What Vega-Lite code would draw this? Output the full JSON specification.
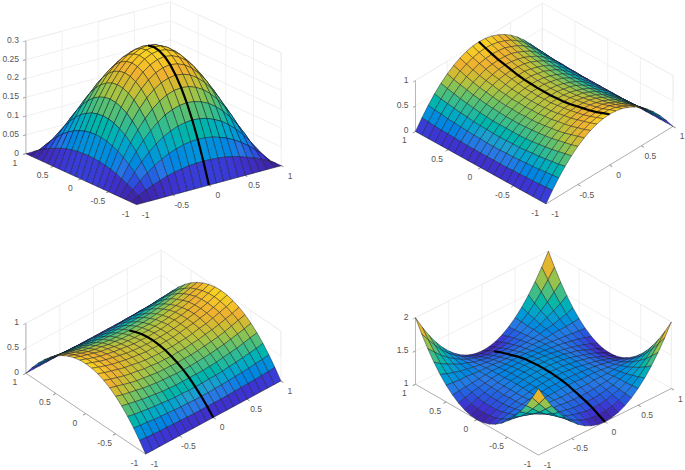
{"$schema":"https://vega.github.io/schema/vega-lite/v6.json","width":685,"height":470,"autosize":{"type":"fit","contains":"padding"},"padding":0,"background":"white","config":{"view":{"stroke":null}},
"datasets":{"grid":[
{"p":1,"x":1,"y":[1,0.9,0.8,0.7,0.6,0.5,0.4,0.3,0.2,0.1,0,-0.1,-0.2,-0.3,-0.4,-0.5,-0.6,-0.7,-0.8,-0.9,-1],"z":[0,0,0,0,0,0,0,0,0,0,0,0,0,0,0,0,0,0,0,0,0]},
{"p":1,"x":0.9,"y":[1,0.9,0.8,0.7,0.6,0.5,0.4,0.3,0.2,0.1,0,-0.1,-0.2,-0.3,-0.4,-0.5,-0.6,-0.7,-0.8,-0.9,-1],"z":[0,0.011,0.021,0.029,0.036,0.043,0.048,0.052,0.055,0.056,0.057,0.056,0.055,0.052,0.048,0.043,0.036,0.029,0.021,0.011,0]},
{"p":1,"x":0.8,"y":[1,0.9,0.8,0.7,0.6,0.5,0.4,0.3,0.2,0.1,0,-0.1,-0.2,-0.3,-0.4,-0.5,-0.6,-0.7,-0.8,-0.9,-1],"z":[0,0.021,0.039,0.055,0.069,0.081,0.091,0.098,0.104,0.107,0.108,0.107,0.104,0.098,0.091,0.081,0.069,0.055,0.039,0.021,0]},
{"p":1,"x":0.7,"y":[1,0.9,0.8,0.7,0.6,0.5,0.4,0.3,0.2,0.1,0,-0.1,-0.2,-0.3,-0.4,-0.5,-0.6,-0.7,-0.8,-0.9,-1],"z":[0,0.029,0.055,0.078,0.098,0.115,0.129,0.139,0.147,0.151,0.153,0.151,0.147,0.139,0.129,0.115,0.098,0.078,0.055,0.029,0]},
{"p":1,"x":0.6,"y":[1,0.9,0.8,0.7,0.6,0.5,0.4,0.3,0.2,0.1,0,-0.1,-0.2,-0.3,-0.4,-0.5,-0.6,-0.7,-0.8,-0.9,-1],"z":[0,0.036,0.069,0.098,0.123,0.144,0.161,0.175,0.184,0.19,0.192,0.19,0.184,0.175,0.161,0.144,0.123,0.098,0.069,0.036,0]},
{"p":1,"x":0.5,"y":[1,0.9,0.8,0.7,0.6,0.5,0.4,0.3,0.2,0.1,0,-0.1,-0.2,-0.3,-0.4,-0.5,-0.6,-0.7,-0.8,-0.9,-1],"z":[0,0.043,0.081,0.115,0.144,0.169,0.189,0.205,0.216,0.223,0.225,0.223,0.216,0.205,0.189,0.169,0.144,0.115,0.081,0.043,0]},
{"p":1,"x":0.4,"y":[1,0.9,0.8,0.7,0.6,0.5,0.4,0.3,0.2,0.1,0,-0.1,-0.2,-0.3,-0.4,-0.5,-0.6,-0.7,-0.8,-0.9,-1],"z":[0,0.048,0.091,0.129,0.161,0.189,0.212,0.229,0.242,0.249,0.252,0.249,0.242,0.229,0.212,0.189,0.161,0.129,0.091,0.048,0]},
{"p":1,"x":0.3,"y":[1,0.9,0.8,0.7,0.6,0.5,0.4,0.3,0.2,0.1,0,-0.1,-0.2,-0.3,-0.4,-0.5,-0.6,-0.7,-0.8,-0.9,-1],"z":[0,0.052,0.098,0.139,0.175,0.205,0.229,0.248,0.262,0.27,0.273,0.27,0.262,0.248,0.229,0.205,0.175,0.139,0.098,0.052,0]},
{"p":1,"x":0.2,"y":[1,0.9,0.8,0.7,0.6,0.5,0.4,0.3,0.2,0.1,0,-0.1,-0.2,-0.3,-0.4,-0.5,-0.6,-0.7,-0.8,-0.9,-1],"z":[0,0.055,0.104,0.147,0.184,0.216,0.242,0.262,0.276,0.285,0.288,0.285,0.276,0.262,0.242,0.216,0.184,0.147,0.104,0.055,0]},
{"p":1,"x":0.1,"y":[1,0.9,0.8,0.7,0.6,0.5,0.4,0.3,0.2,0.1,0,-0.1,-0.2,-0.3,-0.4,-0.5,-0.6,-0.7,-0.8,-0.9,-1],"z":[0,0.056,0.107,0.151,0.19,0.223,0.249,0.27,0.285,0.294,0.297,0.294,0.285,0.27,0.249,0.223,0.19,0.151,0.107,0.056,0]},
{"p":1,"x":0,"y":[1,0.9,0.8,0.7,0.6,0.5,0.4,0.3,0.2,0.1,0,-0.1,-0.2,-0.3,-0.4,-0.5,-0.6,-0.7,-0.8,-0.9,-1],"z":[0,0.057,0.108,0.153,0.192,0.225,0.252,0.273,0.288,0.297,0.3,0.297,0.288,0.273,0.252,0.225,0.192,0.153,0.108,0.057,0]},
{"p":1,"x":-0.1,"y":[1,0.9,0.8,0.7,0.6,0.5,0.4,0.3,0.2,0.1,0,-0.1,-0.2,-0.3,-0.4,-0.5,-0.6,-0.7,-0.8,-0.9,-1],"z":[0,0.056,0.107,0.151,0.19,0.223,0.249,0.27,0.285,0.294,0.297,0.294,0.285,0.27,0.249,0.223,0.19,0.151,0.107,0.056,0]},
{"p":1,"x":-0.2,"y":[1,0.9,0.8,0.7,0.6,0.5,0.4,0.3,0.2,0.1,0,-0.1,-0.2,-0.3,-0.4,-0.5,-0.6,-0.7,-0.8,-0.9,-1],"z":[0,0.055,0.104,0.147,0.184,0.216,0.242,0.262,0.276,0.285,0.288,0.285,0.276,0.262,0.242,0.216,0.184,0.147,0.104,0.055,0]},
{"p":1,"x":-0.3,"y":[1,0.9,0.8,0.7,0.6,0.5,0.4,0.3,0.2,0.1,0,-0.1,-0.2,-0.3,-0.4,-0.5,-0.6,-0.7,-0.8,-0.9,-1],"z":[0,0.052,0.098,0.139,0.175,0.205,0.229,0.248,0.262,0.27,0.273,0.27,0.262,0.248,0.229,0.205,0.175,0.139,0.098,0.052,0]},
{"p":1,"x":-0.4,"y":[1,0.9,0.8,0.7,0.6,0.5,0.4,0.3,0.2,0.1,0,-0.1,-0.2,-0.3,-0.4,-0.5,-0.6,-0.7,-0.8,-0.9,-1],"z":[0,0.048,0.091,0.129,0.161,0.189,0.212,0.229,0.242,0.249,0.252,0.249,0.242,0.229,0.212,0.189,0.161,0.129,0.091,0.048,0]},
{"p":1,"x":-0.5,"y":[1,0.9,0.8,0.7,0.6,0.5,0.4,0.3,0.2,0.1,0,-0.1,-0.2,-0.3,-0.4,-0.5,-0.6,-0.7,-0.8,-0.9,-1],"z":[0,0.043,0.081,0.115,0.144,0.169,0.189,0.205,0.216,0.223,0.225,0.223,0.216,0.205,0.189,0.169,0.144,0.115,0.081,0.043,0]},
{"p":1,"x":-0.6,"y":[1,0.9,0.8,0.7,0.6,0.5,0.4,0.3,0.2,0.1,0,-0.1,-0.2,-0.3,-0.4,-0.5,-0.6,-0.7,-0.8,-0.9,-1],"z":[0,0.036,0.069,0.098,0.123,0.144,0.161,0.175,0.184,0.19,0.192,0.19,0.184,0.175,0.161,0.144,0.123,0.098,0.069,0.036,0]},
{"p":1,"x":-0.7,"y":[1,0.9,0.8,0.7,0.6,0.5,0.4,0.3,0.2,0.1,0,-0.1,-0.2,-0.3,-0.4,-0.5,-0.6,-0.7,-0.8,-0.9,-1],"z":[0,0.029,0.055,0.078,0.098,0.115,0.129,0.139,0.147,0.151,0.153,0.151,0.147,0.139,0.129,0.115,0.098,0.078,0.055,0.029,0]},
{"p":1,"x":-0.8,"y":[1,0.9,0.8,0.7,0.6,0.5,0.4,0.3,0.2,0.1,0,-0.1,-0.2,-0.3,-0.4,-0.5,-0.6,-0.7,-0.8,-0.9,-1],"z":[0,0.021,0.039,0.055,0.069,0.081,0.091,0.098,0.104,0.107,0.108,0.107,0.104,0.098,0.091,0.081,0.069,0.055,0.039,0.021,0]},
{"p":1,"x":-0.9,"y":[1,0.9,0.8,0.7,0.6,0.5,0.4,0.3,0.2,0.1,0,-0.1,-0.2,-0.3,-0.4,-0.5,-0.6,-0.7,-0.8,-0.9,-1],"z":[0,0.011,0.021,0.029,0.036,0.043,0.048,0.052,0.055,0.056,0.057,0.056,0.055,0.052,0.048,0.043,0.036,0.029,0.021,0.011,0]},
{"p":1,"x":-1,"y":[1,0.9,0.8,0.7,0.6,0.5,0.4,0.3,0.2,0.1,0,-0.1,-0.2,-0.3,-0.4,-0.5,-0.6,-0.7,-0.8,-0.9,-1],"z":[0,0,0,0,0,0,0,0,0,0,0,0,0,0,0,0,0,0,0,0,0]},
{"p":2,"x":1,"y":[1,0.9,0.8,0.7,0.6,0.5,0.4,0.3,0.2,0.1,0,-0.1,-0.2,-0.3,-0.4,-0.5,-0.6,-0.7,-0.8,-0.9,-1],"z":[0,0,0,0,0,0,0,0,0,0,0,0,0,0,0,0,0,0,0,0,0]},
{"p":2,"x":0.9,"y":[1,0.9,0.8,0.7,0.6,0.5,0.4,0.3,0.2,0.1,0,-0.1,-0.2,-0.3,-0.4,-0.5,-0.6,-0.7,-0.8,-0.9,-1],"z":[0.19,0.18,0.17,0.16,0.16,0.15,0.15,0.14,0.14,0.14,0.14,0.14,0.14,0.14,0.15,0.15,0.16,0.16,0.17,0.18,0.19]},
{"p":2,"x":0.8,"y":[1,0.9,0.8,0.7,0.6,0.5,0.4,0.3,0.2,0.1,0,-0.1,-0.2,-0.3,-0.4,-0.5,-0.6,-0.7,-0.8,-0.9,-1],"z":[0.36,0.34,0.33,0.31,0.3,0.29,0.28,0.27,0.27,0.26,0.26,0.26,0.27,0.27,0.28,0.29,0.3,0.31,0.33,0.34,0.36]},
{"p":2,"x":0.7,"y":[1,0.9,0.8,0.7,0.6,0.5,0.4,0.3,0.2,0.1,0,-0.1,-0.2,-0.3,-0.4,-0.5,-0.6,-0.7,-0.8,-0.9,-1],"z":[0.51,0.48,0.46,0.44,0.42,0.41,0.39,0.38,0.38,0.37,0.37,0.37,0.38,0.38,0.39,0.41,0.42,0.44,0.46,0.48,0.51]},
{"p":2,"x":0.6,"y":[1,0.9,0.8,0.7,0.6,0.5,0.4,0.3,0.2,0.1,0,-0.1,-0.2,-0.3,-0.4,-0.5,-0.6,-0.7,-0.8,-0.9,-1],"z":[0.64,0.61,0.58,0.55,0.53,0.51,0.49,0.48,0.47,0.47,0.47,0.47,0.47,0.48,0.49,0.51,0.53,0.55,0.58,0.61,0.64]},
{"p":2,"x":0.5,"y":[1,0.9,0.8,0.7,0.6,0.5,0.4,0.3,0.2,0.1,0,-0.1,-0.2,-0.3,-0.4,-0.5,-0.6,-0.7,-0.8,-0.9,-1],"z":[0.75,0.71,0.68,0.65,0.62,0.6,0.58,0.57,0.56,0.55,0.55,0.55,0.56,0.57,0.58,0.6,0.62,0.65,0.68,0.71,0.75]},
{"p":2,"x":0.4,"y":[1,0.9,0.8,0.7,0.6,0.5,0.4,0.3,0.2,0.1,0,-0.1,-0.2,-0.3,-0.4,-0.5,-0.6,-0.7,-0.8,-0.9,-1],"z":[0.84,0.8,0.76,0.72,0.69,0.67,0.65,0.63,0.62,0.62,0.61,0.62,0.62,0.63,0.65,0.67,0.69,0.72,0.76,0.8,0.84]},
{"p":2,"x":0.3,"y":[1,0.9,0.8,0.7,0.6,0.5,0.4,0.3,0.2,0.1,0,-0.1,-0.2,-0.3,-0.4,-0.5,-0.6,-0.7,-0.8,-0.9,-1],"z":[0.91,0.86,0.82,0.78,0.75,0.73,0.7,0.69,0.67,0.67,0.66,0.67,0.67,0.69,0.7,0.73,0.75,0.78,0.82,0.86,0.91]},
{"p":2,"x":0.2,"y":[1,0.9,0.8,0.7,0.6,0.5,0.4,0.3,0.2,0.1,0,-0.1,-0.2,-0.3,-0.4,-0.5,-0.6,-0.7,-0.8,-0.9,-1],"z":[0.96,0.91,0.87,0.83,0.79,0.77,0.74,0.72,0.71,0.7,0.7,0.7,0.71,0.72,0.74,0.77,0.79,0.83,0.87,0.91,0.96]},
{"p":2,"x":0.1,"y":[1,0.9,0.8,0.7,0.6,0.5,0.4,0.3,0.2,0.1,0,-0.1,-0.2,-0.3,-0.4,-0.5,-0.6,-0.7,-0.8,-0.9,-1],"z":[0.99,0.94,0.89,0.85,0.82,0.79,0.77,0.75,0.73,0.73,0.72,0.73,0.73,0.75,0.77,0.79,0.82,0.85,0.89,0.94,0.99]},
{"p":2,"x":0,"y":[1,0.9,0.8,0.7,0.6,0.5,0.4,0.3,0.2,0.1,0,-0.1,-0.2,-0.3,-0.4,-0.5,-0.6,-0.7,-0.8,-0.9,-1],"z":[1,0.95,0.9,0.86,0.83,0.8,0.77,0.75,0.74,0.73,0.73,0.73,0.74,0.75,0.77,0.8,0.83,0.86,0.9,0.95,1]},
{"p":2,"x":-0.1,"y":[1,0.9,0.8,0.7,0.6,0.5,0.4,0.3,0.2,0.1,0,-0.1,-0.2,-0.3,-0.4,-0.5,-0.6,-0.7,-0.8,-0.9,-1],"z":[0.99,0.94,0.89,0.85,0.82,0.79,0.77,0.75,0.73,0.73,0.72,0.73,0.73,0.75,0.77,0.79,0.82,0.85,0.89,0.94,0.99]},
{"p":2,"x":-0.2,"y":[1,0.9,0.8,0.7,0.6,0.5,0.4,0.3,0.2,0.1,0,-0.1,-0.2,-0.3,-0.4,-0.5,-0.6,-0.7,-0.8,-0.9,-1],"z":[0.96,0.91,0.87,0.83,0.79,0.77,0.74,0.72,0.71,0.7,0.7,0.7,0.71,0.72,0.74,0.77,0.79,0.83,0.87,0.91,0.96]},
{"p":2,"x":-0.3,"y":[1,0.9,0.8,0.7,0.6,0.5,0.4,0.3,0.2,0.1,0,-0.1,-0.2,-0.3,-0.4,-0.5,-0.6,-0.7,-0.8,-0.9,-1],"z":[0.91,0.86,0.82,0.78,0.75,0.73,0.7,0.69,0.67,0.67,0.66,0.67,0.67,0.69,0.7,0.73,0.75,0.78,0.82,0.86,0.91]},
{"p":2,"x":-0.4,"y":[1,0.9,0.8,0.7,0.6,0.5,0.4,0.3,0.2,0.1,0,-0.1,-0.2,-0.3,-0.4,-0.5,-0.6,-0.7,-0.8,-0.9,-1],"z":[0.84,0.8,0.76,0.72,0.69,0.67,0.65,0.63,0.62,0.62,0.61,0.62,0.62,0.63,0.65,0.67,0.69,0.72,0.76,0.8,0.84]},
{"p":2,"x":-0.5,"y":[1,0.9,0.8,0.7,0.6,0.5,0.4,0.3,0.2,0.1,0,-0.1,-0.2,-0.3,-0.4,-0.5,-0.6,-0.7,-0.8,-0.9,-1],"z":[0.75,0.71,0.68,0.65,0.62,0.6,0.58,0.57,0.56,0.55,0.55,0.55,0.56,0.57,0.58,0.6,0.62,0.65,0.68,0.71,0.75]},
{"p":2,"x":-0.6,"y":[1,0.9,0.8,0.7,0.6,0.5,0.4,0.3,0.2,0.1,0,-0.1,-0.2,-0.3,-0.4,-0.5,-0.6,-0.7,-0.8,-0.9,-1],"z":[0.64,0.61,0.58,0.55,0.53,0.51,0.49,0.48,0.47,0.47,0.47,0.47,0.47,0.48,0.49,0.51,0.53,0.55,0.58,0.61,0.64]},
{"p":2,"x":-0.7,"y":[1,0.9,0.8,0.7,0.6,0.5,0.4,0.3,0.2,0.1,0,-0.1,-0.2,-0.3,-0.4,-0.5,-0.6,-0.7,-0.8,-0.9,-1],"z":[0.51,0.48,0.46,0.44,0.42,0.41,0.39,0.38,0.38,0.37,0.37,0.37,0.38,0.38,0.39,0.41,0.42,0.44,0.46,0.48,0.51]},
{"p":2,"x":-0.8,"y":[1,0.9,0.8,0.7,0.6,0.5,0.4,0.3,0.2,0.1,0,-0.1,-0.2,-0.3,-0.4,-0.5,-0.6,-0.7,-0.8,-0.9,-1],"z":[0.36,0.34,0.33,0.31,0.3,0.29,0.28,0.27,0.27,0.26,0.26,0.26,0.27,0.27,0.28,0.29,0.3,0.31,0.33,0.34,0.36]},
{"p":2,"x":-0.9,"y":[1,0.9,0.8,0.7,0.6,0.5,0.4,0.3,0.2,0.1,0,-0.1,-0.2,-0.3,-0.4,-0.5,-0.6,-0.7,-0.8,-0.9,-1],"z":[0.19,0.18,0.17,0.16,0.16,0.15,0.15,0.14,0.14,0.14,0.14,0.14,0.14,0.14,0.15,0.15,0.16,0.16,0.17,0.18,0.19]},
{"p":2,"x":-1,"y":[1,0.9,0.8,0.7,0.6,0.5,0.4,0.3,0.2,0.1,0,-0.1,-0.2,-0.3,-0.4,-0.5,-0.6,-0.7,-0.8,-0.9,-1],"z":[0,0,0,0,0,0,0,0,0,0,0,0,0,0,0,0,0,0,0,0,0]},
{"p":3,"x":1,"y":[1,0.9,0.8,0.7,0.6,0.5,0.4,0.3,0.2,0.1,0,-0.1,-0.2,-0.3,-0.4,-0.5,-0.6,-0.7,-0.8,-0.9,-1],"z":[0,0.19,0.36,0.51,0.64,0.75,0.84,0.91,0.96,0.99,1,0.99,0.96,0.91,0.84,0.75,0.64,0.51,0.36,0.19,0]},
{"p":3,"x":0.9,"y":[1,0.9,0.8,0.7,0.6,0.5,0.4,0.3,0.2,0.1,0,-0.1,-0.2,-0.3,-0.4,-0.5,-0.6,-0.7,-0.8,-0.9,-1],"z":[0,0.18,0.34,0.48,0.61,0.71,0.8,0.86,0.91,0.94,0.95,0.94,0.91,0.86,0.8,0.71,0.61,0.48,0.34,0.18,0]},
{"p":3,"x":0.8,"y":[1,0.9,0.8,0.7,0.6,0.5,0.4,0.3,0.2,0.1,0,-0.1,-0.2,-0.3,-0.4,-0.5,-0.6,-0.7,-0.8,-0.9,-1],"z":[0,0.17,0.33,0.46,0.58,0.68,0.76,0.82,0.87,0.89,0.9,0.89,0.87,0.82,0.76,0.68,0.58,0.46,0.33,0.17,0]},
{"p":3,"x":0.7,"y":[1,0.9,0.8,0.7,0.6,0.5,0.4,0.3,0.2,0.1,0,-0.1,-0.2,-0.3,-0.4,-0.5,-0.6,-0.7,-0.8,-0.9,-1],"z":[0,0.16,0.31,0.44,0.55,0.65,0.72,0.78,0.83,0.85,0.86,0.85,0.83,0.78,0.72,0.65,0.55,0.44,0.31,0.16,0]},
{"p":3,"x":0.6,"y":[1,0.9,0.8,0.7,0.6,0.5,0.4,0.3,0.2,0.1,0,-0.1,-0.2,-0.3,-0.4,-0.5,-0.6,-0.7,-0.8,-0.9,-1],"z":[0,0.16,0.3,0.42,0.53,0.62,0.69,0.75,0.79,0.82,0.83,0.82,0.79,0.75,0.69,0.62,0.53,0.42,0.3,0.16,0]},
{"p":3,"x":0.5,"y":[1,0.9,0.8,0.7,0.6,0.5,0.4,0.3,0.2,0.1,0,-0.1,-0.2,-0.3,-0.4,-0.5,-0.6,-0.7,-0.8,-0.9,-1],"z":[0,0.15,0.29,0.41,0.51,0.6,0.67,0.73,0.77,0.79,0.8,0.79,0.77,0.73,0.67,0.6,0.51,0.41,0.29,0.15,0]},
{"p":3,"x":0.4,"y":[1,0.9,0.8,0.7,0.6,0.5,0.4,0.3,0.2,0.1,0,-0.1,-0.2,-0.3,-0.4,-0.5,-0.6,-0.7,-0.8,-0.9,-1],"z":[0,0.15,0.28,0.39,0.49,0.58,0.65,0.7,0.74,0.77,0.77,0.77,0.74,0.7,0.65,0.58,0.49,0.39,0.28,0.15,0]},
{"p":3,"x":0.3,"y":[1,0.9,0.8,0.7,0.6,0.5,0.4,0.3,0.2,0.1,0,-0.1,-0.2,-0.3,-0.4,-0.5,-0.6,-0.7,-0.8,-0.9,-1],"z":[0,0.14,0.27,0.38,0.48,0.57,0.63,0.69,0.72,0.75,0.75,0.75,0.72,0.69,0.63,0.57,0.48,0.38,0.27,0.14,0]},
{"p":3,"x":0.2,"y":[1,0.9,0.8,0.7,0.6,0.5,0.4,0.3,0.2,0.1,0,-0.1,-0.2,-0.3,-0.4,-0.5,-0.6,-0.7,-0.8,-0.9,-1],"z":[0,0.14,0.27,0.38,0.47,0.56,0.62,0.67,0.71,0.73,0.74,0.73,0.71,0.67,0.62,0.56,0.47,0.38,0.27,0.14,0]},
{"p":3,"x":0.1,"y":[1,0.9,0.8,0.7,0.6,0.5,0.4,0.3,0.2,0.1,0,-0.1,-0.2,-0.3,-0.4,-0.5,-0.6,-0.7,-0.8,-0.9,-1],"z":[0,0.14,0.26,0.37,0.47,0.55,0.62,0.67,0.7,0.73,0.73,0.73,0.7,0.67,0.62,0.55,0.47,0.37,0.26,0.14,0]},
{"p":3,"x":0,"y":[1,0.9,0.8,0.7,0.6,0.5,0.4,0.3,0.2,0.1,0,-0.1,-0.2,-0.3,-0.4,-0.5,-0.6,-0.7,-0.8,-0.9,-1],"z":[0,0.14,0.26,0.37,0.47,0.55,0.61,0.66,0.7,0.72,0.73,0.72,0.7,0.66,0.61,0.55,0.47,0.37,0.26,0.14,0]},
{"p":3,"x":-0.1,"y":[1,0.9,0.8,0.7,0.6,0.5,0.4,0.3,0.2,0.1,0,-0.1,-0.2,-0.3,-0.4,-0.5,-0.6,-0.7,-0.8,-0.9,-1],"z":[0,0.14,0.26,0.37,0.47,0.55,0.62,0.67,0.7,0.73,0.73,0.73,0.7,0.67,0.62,0.55,0.47,0.37,0.26,0.14,0]},
{"p":3,"x":-0.2,"y":[1,0.9,0.8,0.7,0.6,0.5,0.4,0.3,0.2,0.1,0,-0.1,-0.2,-0.3,-0.4,-0.5,-0.6,-0.7,-0.8,-0.9,-1],"z":[0,0.14,0.27,0.38,0.47,0.56,0.62,0.67,0.71,0.73,0.74,0.73,0.71,0.67,0.62,0.56,0.47,0.38,0.27,0.14,0]},
{"p":3,"x":-0.3,"y":[1,0.9,0.8,0.7,0.6,0.5,0.4,0.3,0.2,0.1,0,-0.1,-0.2,-0.3,-0.4,-0.5,-0.6,-0.7,-0.8,-0.9,-1],"z":[0,0.14,0.27,0.38,0.48,0.57,0.63,0.69,0.72,0.75,0.75,0.75,0.72,0.69,0.63,0.57,0.48,0.38,0.27,0.14,0]},
{"p":3,"x":-0.4,"y":[1,0.9,0.8,0.7,0.6,0.5,0.4,0.3,0.2,0.1,0,-0.1,-0.2,-0.3,-0.4,-0.5,-0.6,-0.7,-0.8,-0.9,-1],"z":[0,0.15,0.28,0.39,0.49,0.58,0.65,0.7,0.74,0.77,0.77,0.77,0.74,0.7,0.65,0.58,0.49,0.39,0.28,0.15,0]},
{"p":3,"x":-0.5,"y":[1,0.9,0.8,0.7,0.6,0.5,0.4,0.3,0.2,0.1,0,-0.1,-0.2,-0.3,-0.4,-0.5,-0.6,-0.7,-0.8,-0.9,-1],"z":[0,0.15,0.29,0.41,0.51,0.6,0.67,0.73,0.77,0.79,0.8,0.79,0.77,0.73,0.67,0.6,0.51,0.41,0.29,0.15,0]},
{"p":3,"x":-0.6,"y":[1,0.9,0.8,0.7,0.6,0.5,0.4,0.3,0.2,0.1,0,-0.1,-0.2,-0.3,-0.4,-0.5,-0.6,-0.7,-0.8,-0.9,-1],"z":[0,0.16,0.3,0.42,0.53,0.62,0.69,0.75,0.79,0.82,0.83,0.82,0.79,0.75,0.69,0.62,0.53,0.42,0.3,0.16,0]},
{"p":3,"x":-0.7,"y":[1,0.9,0.8,0.7,0.6,0.5,0.4,0.3,0.2,0.1,0,-0.1,-0.2,-0.3,-0.4,-0.5,-0.6,-0.7,-0.8,-0.9,-1],"z":[0,0.16,0.31,0.44,0.55,0.65,0.72,0.78,0.83,0.85,0.86,0.85,0.83,0.78,0.72,0.65,0.55,0.44,0.31,0.16,0]},
{"p":3,"x":-0.8,"y":[1,0.9,0.8,0.7,0.6,0.5,0.4,0.3,0.2,0.1,0,-0.1,-0.2,-0.3,-0.4,-0.5,-0.6,-0.7,-0.8,-0.9,-1],"z":[0,0.17,0.33,0.46,0.58,0.68,0.76,0.82,0.87,0.89,0.9,0.89,0.87,0.82,0.76,0.68,0.58,0.46,0.33,0.17,0]},
{"p":3,"x":-0.9,"y":[1,0.9,0.8,0.7,0.6,0.5,0.4,0.3,0.2,0.1,0,-0.1,-0.2,-0.3,-0.4,-0.5,-0.6,-0.7,-0.8,-0.9,-1],"z":[0,0.18,0.34,0.48,0.61,0.71,0.8,0.86,0.91,0.94,0.95,0.94,0.91,0.86,0.8,0.71,0.61,0.48,0.34,0.18,0]},
{"p":3,"x":-1,"y":[1,0.9,0.8,0.7,0.6,0.5,0.4,0.3,0.2,0.1,0,-0.1,-0.2,-0.3,-0.4,-0.5,-0.6,-0.7,-0.8,-0.9,-1],"z":[0,0.19,0.36,0.51,0.64,0.75,0.84,0.91,0.96,0.99,1,0.99,0.96,0.91,0.84,0.75,0.64,0.51,0.36,0.19,0]},
{"p":4,"x":1,"y":[1,0.9,0.8,0.7,0.6,0.5,0.4,0.3,0.2,0.1,0,-0.1,-0.2,-0.3,-0.4,-0.5,-0.6,-0.7,-0.8,-0.9,-1],"z":[2,1.81,1.64,1.49,1.36,1.25,1.16,1.09,1.04,1.01,1,1.01,1.04,1.09,1.16,1.25,1.36,1.49,1.64,1.81,2]},
{"p":4,"x":0.9,"y":[1,0.9,0.8,0.7,0.6,0.5,0.4,0.3,0.2,0.1,0,-0.1,-0.2,-0.3,-0.4,-0.5,-0.6,-0.7,-0.8,-0.9,-1],"z":[1.81,1.67,1.54,1.42,1.32,1.24,1.17,1.12,1.08,1.06,1.05,1.06,1.08,1.12,1.17,1.24,1.32,1.42,1.54,1.67,1.81]},
{"p":4,"x":0.8,"y":[1,0.9,0.8,0.7,0.6,0.5,0.4,0.3,0.2,0.1,0,-0.1,-0.2,-0.3,-0.4,-0.5,-0.6,-0.7,-0.8,-0.9,-1],"z":[1.64,1.54,1.44,1.36,1.29,1.23,1.18,1.15,1.12,1.1,1.1,1.1,1.12,1.15,1.18,1.23,1.29,1.36,1.44,1.54,1.64]},
{"p":4,"x":0.7,"y":[1,0.9,0.8,0.7,0.6,0.5,0.4,0.3,0.2,0.1,0,-0.1,-0.2,-0.3,-0.4,-0.5,-0.6,-0.7,-0.8,-0.9,-1],"z":[1.49,1.42,1.36,1.31,1.26,1.23,1.19,1.17,1.15,1.14,1.14,1.14,1.15,1.17,1.19,1.23,1.26,1.31,1.36,1.42,1.49]},
{"p":4,"x":0.6,"y":[1,0.9,0.8,0.7,0.6,0.5,0.4,0.3,0.2,0.1,0,-0.1,-0.2,-0.3,-0.4,-0.5,-0.6,-0.7,-0.8,-0.9,-1],"z":[1.36,1.32,1.29,1.26,1.24,1.22,1.2,1.19,1.18,1.18,1.17,1.18,1.18,1.19,1.2,1.22,1.24,1.26,1.29,1.32,1.36]},
{"p":4,"x":0.5,"y":[1,0.9,0.8,0.7,0.6,0.5,0.4,0.3,0.2,0.1,0,-0.1,-0.2,-0.3,-0.4,-0.5,-0.6,-0.7,-0.8,-0.9,-1],"z":[1.25,1.24,1.23,1.23,1.22,1.21,1.21,1.21,1.2,1.2,1.2,1.2,1.2,1.21,1.21,1.21,1.22,1.23,1.23,1.24,1.25]},
{"p":4,"x":0.4,"y":[1,0.9,0.8,0.7,0.6,0.5,0.4,0.3,0.2,0.1,0,-0.1,-0.2,-0.3,-0.4,-0.5,-0.6,-0.7,-0.8,-0.9,-1],"z":[1.16,1.17,1.18,1.19,1.2,1.21,1.22,1.22,1.22,1.23,1.23,1.23,1.22,1.22,1.22,1.21,1.2,1.19,1.18,1.17,1.16]},
{"p":4,"x":0.3,"y":[1,0.9,0.8,0.7,0.6,0.5,0.4,0.3,0.2,0.1,0,-0.1,-0.2,-0.3,-0.4,-0.5,-0.6,-0.7,-0.8,-0.9,-1],"z":[1.09,1.12,1.15,1.17,1.19,1.21,1.22,1.23,1.24,1.24,1.25,1.24,1.24,1.23,1.22,1.21,1.19,1.17,1.15,1.12,1.09]},
{"p":4,"x":0.2,"y":[1,0.9,0.8,0.7,0.6,0.5,0.4,0.3,0.2,0.1,0,-0.1,-0.2,-0.3,-0.4,-0.5,-0.6,-0.7,-0.8,-0.9,-1],"z":[1.04,1.08,1.12,1.15,1.18,1.2,1.22,1.24,1.25,1.26,1.26,1.26,1.25,1.24,1.22,1.2,1.18,1.15,1.12,1.08,1.04]},
{"p":4,"x":0.1,"y":[1,0.9,0.8,0.7,0.6,0.5,0.4,0.3,0.2,0.1,0,-0.1,-0.2,-0.3,-0.4,-0.5,-0.6,-0.7,-0.8,-0.9,-1],"z":[1.01,1.06,1.1,1.14,1.17,1.2,1.23,1.24,1.26,1.26,1.27,1.26,1.26,1.24,1.23,1.2,1.17,1.14,1.1,1.06,1.01]},
{"p":4,"x":0,"y":[1,0.9,0.8,0.7,0.6,0.5,0.4,0.3,0.2,0.1,0,-0.1,-0.2,-0.3,-0.4,-0.5,-0.6,-0.7,-0.8,-0.9,-1],"z":[1,1.05,1.1,1.14,1.17,1.2,1.23,1.25,1.26,1.27,1.27,1.27,1.26,1.25,1.23,1.2,1.17,1.14,1.1,1.05,1]},
{"p":4,"x":-0.1,"y":[1,0.9,0.8,0.7,0.6,0.5,0.4,0.3,0.2,0.1,0,-0.1,-0.2,-0.3,-0.4,-0.5,-0.6,-0.7,-0.8,-0.9,-1],"z":[1.01,1.06,1.1,1.14,1.17,1.2,1.23,1.24,1.26,1.26,1.27,1.26,1.26,1.24,1.23,1.2,1.17,1.14,1.1,1.06,1.01]},
{"p":4,"x":-0.2,"y":[1,0.9,0.8,0.7,0.6,0.5,0.4,0.3,0.2,0.1,0,-0.1,-0.2,-0.3,-0.4,-0.5,-0.6,-0.7,-0.8,-0.9,-1],"z":[1.04,1.08,1.12,1.15,1.18,1.2,1.22,1.24,1.25,1.26,1.26,1.26,1.25,1.24,1.22,1.2,1.18,1.15,1.12,1.08,1.04]},
{"p":4,"x":-0.3,"y":[1,0.9,0.8,0.7,0.6,0.5,0.4,0.3,0.2,0.1,0,-0.1,-0.2,-0.3,-0.4,-0.5,-0.6,-0.7,-0.8,-0.9,-1],"z":[1.09,1.12,1.15,1.17,1.19,1.21,1.22,1.23,1.24,1.24,1.25,1.24,1.24,1.23,1.22,1.21,1.19,1.17,1.15,1.12,1.09]},
{"p":4,"x":-0.4,"y":[1,0.9,0.8,0.7,0.6,0.5,0.4,0.3,0.2,0.1,0,-0.1,-0.2,-0.3,-0.4,-0.5,-0.6,-0.7,-0.8,-0.9,-1],"z":[1.16,1.17,1.18,1.19,1.2,1.21,1.22,1.22,1.22,1.23,1.23,1.23,1.22,1.22,1.22,1.21,1.2,1.19,1.18,1.17,1.16]},
{"p":4,"x":-0.5,"y":[1,0.9,0.8,0.7,0.6,0.5,0.4,0.3,0.2,0.1,0,-0.1,-0.2,-0.3,-0.4,-0.5,-0.6,-0.7,-0.8,-0.9,-1],"z":[1.25,1.24,1.23,1.23,1.22,1.21,1.21,1.21,1.2,1.2,1.2,1.2,1.2,1.21,1.21,1.21,1.22,1.23,1.23,1.24,1.25]},
{"p":4,"x":-0.6,"y":[1,0.9,0.8,0.7,0.6,0.5,0.4,0.3,0.2,0.1,0,-0.1,-0.2,-0.3,-0.4,-0.5,-0.6,-0.7,-0.8,-0.9,-1],"z":[1.36,1.32,1.29,1.26,1.24,1.22,1.2,1.19,1.18,1.18,1.17,1.18,1.18,1.19,1.2,1.22,1.24,1.26,1.29,1.32,1.36]},
{"p":4,"x":-0.7,"y":[1,0.9,0.8,0.7,0.6,0.5,0.4,0.3,0.2,0.1,0,-0.1,-0.2,-0.3,-0.4,-0.5,-0.6,-0.7,-0.8,-0.9,-1],"z":[1.49,1.42,1.36,1.31,1.26,1.23,1.19,1.17,1.15,1.14,1.14,1.14,1.15,1.17,1.19,1.23,1.26,1.31,1.36,1.42,1.49]},
{"p":4,"x":-0.8,"y":[1,0.9,0.8,0.7,0.6,0.5,0.4,0.3,0.2,0.1,0,-0.1,-0.2,-0.3,-0.4,-0.5,-0.6,-0.7,-0.8,-0.9,-1],"z":[1.64,1.54,1.44,1.36,1.29,1.23,1.18,1.15,1.12,1.1,1.1,1.1,1.12,1.15,1.18,1.23,1.29,1.36,1.44,1.54,1.64]},
{"p":4,"x":-0.9,"y":[1,0.9,0.8,0.7,0.6,0.5,0.4,0.3,0.2,0.1,0,-0.1,-0.2,-0.3,-0.4,-0.5,-0.6,-0.7,-0.8,-0.9,-1],"z":[1.81,1.67,1.54,1.42,1.32,1.24,1.17,1.12,1.08,1.06,1.05,1.06,1.08,1.12,1.17,1.24,1.32,1.42,1.54,1.67,1.81]},
{"p":4,"x":-1,"y":[1,0.9,0.8,0.7,0.6,0.5,0.4,0.3,0.2,0.1,0,-0.1,-0.2,-0.3,-0.4,-0.5,-0.6,-0.7,-0.8,-0.9,-1],"z":[2,1.81,1.64,1.49,1.36,1.25,1.16,1.09,1.04,1.01,1,1.01,1.04,1.09,1.16,1.25,1.36,1.49,1.64,1.81,2]}
]},
"encoding":{"x":{"field":"sx","type":"quantitative","scale":{"domain":[0,685],"nice":false,"zero":false},"axis":null},"y":{"field":"sy","type":"quantitative","scale":{"domain":[470,0],"nice":false,"zero":false},"axis":null}},
"layer":[
{"data":{"values":[
{"g":1,"p":1,"y":1,"x":[-1,-1,-0.5,-0.5,0,0,0.5,0.5,1,1],"z":[0,0.3,0.3,0,0,0.3,0.3,0,0,0.3]},
{"g":2,"p":1,"y":1,"x":[-1,1,1,-1,-1,1,1,-1,-1,1,1,-1,-1,1],"z":[0,0,0.05,0.05,0.1,0.1,0.15,0.15,0.2,0.2,0.25,0.25,0.3,0.3]},
{"g":3,"p":2,"y":1,"x":[-1,-1,-0.5,-0.5,0,0,0.5,0.5,1,1],"z":[0,1,1,0,0,1,1,0,0,1]},
{"g":4,"p":2,"y":1,"x":[-1,1,1,-1,-1,1],"z":[0,0,0.5,0.5,1,1]},
{"g":5,"p":3,"y":1,"x":[-1,-1,-0.5,-0.5,0,0,0.5,0.5,1,1],"z":[0,1,1,0,0,1,1,0,0,1]},
{"g":6,"p":3,"y":1,"x":[-1,1,1,-1,-1,1],"z":[0,0,0.5,0.5,1,1]},
{"g":7,"p":4,"y":1,"x":[-1,-1,-0.5,-0.5,0,0,0.5,0.5,1,1],"z":[1,2,2,1,1,2,2,1,1,2]},
{"g":8,"p":4,"y":1,"x":[-1,1,1,-1,-1,1],"z":[1,1,1.5,1.5,2,2]}]},
"transform":[{"flatten":["x","z"]},{"window":[{"op":"row_number","as":"i"}]},{"calculate":"datum.p==1?154+72.5*datum.x-55.5*datum.y:datum.p==2?545.85+63.65*datum.x-65.5*datum.y:datum.p==3?153.85+67.85*datum.x-60*datum.y:545+66.65*datum.x-61.65*datum.y","as":"sx"},{"calculate":"datum.p==1?160-19.5*datum.x-25.5*datum.y-376.7*datum.z:datum.p==2?129.2-38.8*datum.x-36.3*datum.y-51*datum.z:datum.p==3?377.85-36.65*datum.x-40.5*datum.y-50*datum.z:387.2-33.35*datum.x-35.5*datum.y-66.7*(datum.z-1)","as":"sy"}],
"mark":{"type":"line","stroke":"#ececec","strokeWidth":0.8},"encoding":{"detail":{"field":"g"},"order":{"field":"i"}}},
{"data":{"values":[
{"g":1,"p":1,"x":1,"y":[-1,-1,-0.5,-0.5,0,0,0.5,0.5,1,1],"z":[0,0.3,0.3,0,0,0.3,0.3,0,0,0.3]},
{"g":2,"p":1,"x":1,"y":[-1,1,1,-1,-1,1,1,-1,-1,1,1,-1,-1,1],"z":[0,0,0.05,0.05,0.1,0.1,0.15,0.15,0.2,0.2,0.25,0.25,0.3,0.3]},
{"g":3,"p":2,"x":1,"y":[-1,-1,-0.5,-0.5,0,0,0.5,0.5,1,1],"z":[0,1,1,0,0,1,1,0,0,1]},
{"g":4,"p":2,"x":1,"y":[-1,1,1,-1,-1,1],"z":[0,0,0.5,0.5,1,1]},
{"g":5,"p":3,"x":1,"y":[-1,-1,-0.5,-0.5,0,0,0.5,0.5,1,1],"z":[0,1,1,0,0,1,1,0,0,1]},
{"g":6,"p":3,"x":1,"y":[-1,1,1,-1,-1,1],"z":[0,0,0.5,0.5,1,1]},
{"g":7,"p":4,"x":1,"y":[-1,-1,-0.5,-0.5,0,0,0.5,0.5,1,1],"z":[1,2,2,1,1,2,2,1,1,2]},
{"g":8,"p":4,"x":1,"y":[-1,1,1,-1,-1,1],"z":[1,1,1.5,1.5,2,2]}]},
"transform":[{"flatten":["y","z"]},{"window":[{"op":"row_number","as":"i"}]},{"calculate":"datum.p==1?154+72.5*datum.x-55.5*datum.y:datum.p==2?545.85+63.65*datum.x-65.5*datum.y:datum.p==3?153.85+67.85*datum.x-60*datum.y:545+66.65*datum.x-61.65*datum.y","as":"sx"},{"calculate":"datum.p==1?160-19.5*datum.x-25.5*datum.y-376.7*datum.z:datum.p==2?129.2-38.8*datum.x-36.3*datum.y-51*datum.z:datum.p==3?377.85-36.65*datum.x-40.5*datum.y-50*datum.z:387.2-33.35*datum.x-35.5*datum.y-66.7*(datum.z-1)","as":"sy"}],
"mark":{"type":"line","stroke":"#ececec","strokeWidth":0.8},"encoding":{"detail":{"field":"g"},"order":{"field":"i"}}},
{"data":{"values":[
{"g":1,"p":1,"z":0,"x":[-1,-0.5,-0.5,-0.5,0,0,0,0.5,0.5,0.5,1,1,1],"y":[-1,-1,-1.04,-1,-1,-1.04,-1,-1,-1.04,-1,-1,-1.04,-1]},
{"g":2,"p":1,"z":0,"y":[-1,-0.5,-0.5,-0.5,0,0,0,0.5,0.5,0.5,1,1,1],"x":[-1,-1,-1.04,-1,-1,-1.04,-1,-1,-1.04,-1,-1,-1.04,-1]},
{"g":3,"p":2,"z":0,"x":[-1,-0.5,-0.5,-0.5,0,0,0,0.5,0.5,0.5,1,1,1],"y":[-1,-1,-1.04,-1,-1,-1.04,-1,-1,-1.04,-1,-1,-1.04,-1]},
{"g":4,"p":2,"z":0,"y":[-1,-0.5,-0.5,-0.5,0,0,0,0.5,0.5,0.5,1,1,1],"x":[-1,-1,-1.04,-1,-1,-1.04,-1,-1,-1.04,-1,-1,-1.04,-1]},
{"g":5,"p":3,"z":0,"x":[-1,-0.5,-0.5,-0.5,0,0,0,0.5,0.5,0.5,1,1,1],"y":[-1,-1,-1.04,-1,-1,-1.04,-1,-1,-1.04,-1,-1,-1.04,-1]},
{"g":6,"p":3,"z":0,"y":[-1,-0.5,-0.5,-0.5,0,0,0,0.5,0.5,0.5,1,1,1],"x":[-1,-1,-1.04,-1,-1,-1.04,-1,-1,-1.04,-1,-1,-1.04,-1]},
{"g":7,"p":4,"z":1,"x":[-1,-0.5,-0.5,-0.5,0,0,0,0.5,0.5,0.5,1,1,1],"y":[-1,-1,-1.04,-1,-1,-1.04,-1,-1,-1.04,-1,-1,-1.04,-1]},
{"g":8,"p":4,"z":1,"y":[-1,-0.5,-0.5,-0.5,0,0,0,0.5,0.5,0.5,1,1,1],"x":[-1,-1,-1.04,-1,-1,-1.04,-1,-1,-1.04,-1,-1,-1.04,-1]}]},
"transform":[{"flatten":["x","y"]},{"window":[{"op":"row_number","as":"i"}]},{"calculate":"datum.p==1?154+72.5*datum.x-55.5*datum.y:datum.p==2?545.85+63.65*datum.x-65.5*datum.y:datum.p==3?153.85+67.85*datum.x-60*datum.y:545+66.65*datum.x-61.65*datum.y","as":"sx"},{"calculate":"datum.p==1?160-19.5*datum.x-25.5*datum.y-376.7*datum.z:datum.p==2?129.2-38.8*datum.x-36.3*datum.y-51*datum.z:datum.p==3?377.85-36.65*datum.x-40.5*datum.y-50*datum.z:387.2-33.35*datum.x-35.5*datum.y-66.7*(datum.z-1)","as":"sy"}],
"mark":{"type":"line","stroke":"#999999","strokeWidth":0.8},"encoding":{"detail":{"field":"g"},"order":{"field":"i"}}},
{"data":{"values":[
{"g":1,"p":1,"y":1,"x":[-1,-1,-1.04,-1,-1,-1.04,-1,-1,-1.04,-1,-1,-1.04,-1,-1,-1.04,-1,-1,-1.04],"z":[0,0.05,0.05,0.05,0.1,0.1,0.1,0.15,0.15,0.15,0.2,0.2,0.2,0.25,0.25,0.25,0.3,0.3]},
{"g":2,"p":2,"y":1,"x":[-1,-1,-1.04,-1,-1,-1.04],"z":[0,0.5,0.5,0.5,1,1]},
{"g":3,"p":3,"y":1,"x":[-1,-1,-1.04,-1,-1,-1.04],"z":[0,0.5,0.5,0.5,1,1]},
{"g":4,"p":4,"y":1,"x":[-1,-1,-1.04,-1,-1,-1.04],"z":[1,1.5,1.5,1.5,2,2]}]},
"transform":[{"flatten":["x","z"]},{"window":[{"op":"row_number","as":"i"}]},{"calculate":"datum.p==1?154+72.5*datum.x-55.5*datum.y:datum.p==2?545.85+63.65*datum.x-65.5*datum.y:datum.p==3?153.85+67.85*datum.x-60*datum.y:545+66.65*datum.x-61.65*datum.y","as":"sx"},{"calculate":"datum.p==1?160-19.5*datum.x-25.5*datum.y-376.7*datum.z:datum.p==2?129.2-38.8*datum.x-36.3*datum.y-51*datum.z:datum.p==3?377.85-36.65*datum.x-40.5*datum.y-50*datum.z:387.2-33.35*datum.x-35.5*datum.y-66.7*(datum.z-1)","as":"sy"}],
"mark":{"type":"line","stroke":"#aaaaaa","strokeWidth":0.8},"encoding":{"detail":{"field":"g"},"order":{"field":"i"}}},
{"data":{"name":"grid"},
"transform":[{"flatten":["y","z"]},
{"window":[{"op":"lead","field":"x","as":"xn"},{"op":"lead","field":"z","as":"zr"}],"groupby":["p","y"],"sort":[{"field":"x","order":"ascending"}]},
{"window":[{"op":"lead","field":"y","as":"yn"},{"op":"lead","field":"z","as":"zt"},{"op":"lead","field":"zr","as":"ztr"}],"groupby":["p","x"],"sort":[{"field":"y","order":"ascending"}]},
{"filter":"isValid(datum.xn)&&isValid(datum.yn)"},
{"calculate":"datum.p+'_'+datum.x+'_'+datum.y","as":"id"},
{"calculate":"datum.p==1?((datum.z+datum.zr+datum.zt+datum.ztr)/4)/0.3:datum.p==4?(datum.z+datum.zr+datum.zt+datum.ztr)/4-1:(datum.z+datum.zr+datum.zt+datum.ztr)/4","as":"c"},
{"calculate":"[datum.x,datum.xn,datum.xn,datum.x,datum.x]","as":"ax"},
{"calculate":"[datum.y,datum.y,datum.yn,datum.yn,datum.y]","as":"ay"},
{"calculate":"[datum.z,datum.zr,datum.ztr,datum.zt,datum.z]","as":"az"},
{"calculate":"[0,1,2,3,4]","as":"ci"},
{"flatten":["ax","ay","az","ci"]},
{"calculate":"datum.p==1?154+72.5*datum.ax-55.5*datum.ay:datum.p==2?545.85+63.65*datum.ax-65.5*datum.ay:datum.p==3?153.85+67.85*datum.ax-60*datum.ay:545+66.65*datum.ax-61.65*datum.ay","as":"sx"},
{"calculate":"datum.p==1?160-19.5*datum.ax-25.5*datum.ay-376.7*datum.az:datum.p==2?129.2-38.8*datum.ax-36.3*datum.ay-51*datum.az:datum.p==3?377.85-36.65*datum.ax-40.5*datum.ay-50*datum.az:387.2-33.35*datum.ax-35.5*datum.ay-66.7*(datum.az-1)","as":"sy"}],
"mark":{"type":"line","stroke":"#10101f","strokeWidth":0.6,"strokeOpacity":0.7},
"encoding":{"detail":{"field":"id"},"order":{"field":"ci"},"fill":{"field":"c","type":"quantitative","legend":null,"scale":{"domain":[0,0.08,0.2,0.32,0.45,0.58,0.72,0.85,1],"range":["#3a1f96","#3d34d4","#2a78e4","#1f9fd0","#1fb8a0","#5cc070","#bcc23c","#eeb030","#f8d820"]}}}},
{"data":{"name":"grid"},
"transform":[{"flatten":["y","z"]},{"filter":"datum.x==0&&datum.y<=(datum.p==1?0.1:datum.p==2?1:datum.p==3?0.4:0.8)"},{"window":[{"op":"row_number","as":"i"}]},{"calculate":"datum.p==1?154+72.5*datum.x-55.5*datum.y:datum.p==2?545.85+63.65*datum.x-65.5*datum.y:datum.p==3?153.85+67.85*datum.x-60*datum.y:545+66.65*datum.x-61.65*datum.y","as":"sx"},{"calculate":"datum.p==1?160-19.5*datum.x-25.5*datum.y-376.7*datum.z:datum.p==2?129.2-38.8*datum.x-36.3*datum.y-51*datum.z:datum.p==3?377.85-36.65*datum.x-40.5*datum.y-50*datum.z:387.2-33.35*datum.x-35.5*datum.y-66.7*(datum.z-1)","as":"sy"}],
"mark":{"type":"line","stroke":"#000000","strokeWidth":2.2},"encoding":{"detail":{"field":"p"},"order":{"field":"i"}}},
{"data":{"values":[
{"p":1,"y":-1,"z":0,"x":[-1,-0.5,0,0.5,1],"t":["-1","-0.5","0","0.5","1"]},
{"p":2,"y":-1,"z":0,"x":[-1,-0.5,0,0.5,1],"t":["-1","-0.5","0","0.5","1"]},
{"p":3,"y":-1,"z":0,"x":[-1,-0.5,0,0.5,1],"t":["-1","-0.5","0","0.5","1"]},
{"p":4,"y":-1,"z":1,"x":[-1,-0.5,0,0.5,1],"t":["-1","-0.5","0","0.5","1"]}]},
"transform":[{"flatten":["x","t"]},{"calculate":"datum.p==1?154+72.5*datum.x-55.5*datum.y:datum.p==2?545.85+63.65*datum.x-65.5*datum.y:datum.p==3?153.85+67.85*datum.x-60*datum.y:545+66.65*datum.x-61.65*datum.y","as":"sx"},{"calculate":"datum.p==1?160-19.5*datum.x-25.5*datum.y-376.7*datum.z:datum.p==2?129.2-38.8*datum.x-36.3*datum.y-51*datum.z:datum.p==3?377.85-36.65*datum.x-40.5*datum.y-50*datum.z:387.2-33.35*datum.x-35.5*datum.y-66.7*(datum.z-1)","as":"sy"}],
"mark":{"type":"text","font":"Liberation Sans","fontSize":8.5,"fill":"#555555","dx":9,"dy":10},"encoding":{"text":{"field":"t"}}},
{"data":{"values":[
{"p":1,"x":-1,"z":0,"y":[-1,-0.5,0,0.5,1],"t":["-1","-0.5","0","0.5","1"]},
{"p":2,"x":-1,"z":0,"y":[-1,-0.5,0,0.5,1],"t":["-1","-0.5","0","0.5","1"]},
{"p":3,"x":-1,"z":0,"y":[-1,-0.5,0,0.5,1],"t":["-1","-0.5","0","0.5","1"]},
{"p":4,"x":-1,"z":1,"y":[-1,-0.5,0,0.5,1],"t":["-1","-0.5","0","0.5","1"]}]},
"transform":[{"flatten":["y","t"]},{"calculate":"datum.p==1?154+72.5*datum.x-55.5*datum.y:datum.p==2?545.85+63.65*datum.x-65.5*datum.y:datum.p==3?153.85+67.85*datum.x-60*datum.y:545+66.65*datum.x-61.65*datum.y","as":"sx"},{"calculate":"datum.p==1?160-19.5*datum.x-25.5*datum.y-376.7*datum.z:datum.p==2?129.2-38.8*datum.x-36.3*datum.y-51*datum.z:datum.p==3?377.85-36.65*datum.x-40.5*datum.y-50*datum.z:387.2-33.35*datum.x-35.5*datum.y-66.7*(datum.z-1)","as":"sy"}],
"mark":{"type":"text","font":"Liberation Sans","fontSize":8.5,"fill":"#555555","dx":-11,"dy":9},"encoding":{"text":{"field":"t"}}},
{"data":{"values":[
{"p":1,"x":-1,"y":1,"z":[0,0.05,0.1,0.15,0.2,0.25,0.3],"t":["0","0.05","0.1","0.15","0.2","0.25","0.3"]},
{"p":2,"x":-1,"y":1,"z":[0,0.5,1],"t":["0","0.5","1"]},
{"p":3,"x":-1,"y":1,"z":[0,0.5,1],"t":["0","0.5","1"]},
{"p":4,"x":-1,"y":1,"z":[1,1.5,2],"t":["1","1.5","2"]}]},
"transform":[{"flatten":["z","t"]},{"calculate":"datum.p==1?154+72.5*datum.x-55.5*datum.y:datum.p==2?545.85+63.65*datum.x-65.5*datum.y:datum.p==3?153.85+67.85*datum.x-60*datum.y:545+66.65*datum.x-61.65*datum.y","as":"sx"},{"calculate":"datum.p==1?160-19.5*datum.x-25.5*datum.y-376.7*datum.z:datum.p==2?129.2-38.8*datum.x-36.3*datum.y-51*datum.z:datum.p==3?377.85-36.65*datum.x-40.5*datum.y-50*datum.z:387.2-33.35*datum.x-35.5*datum.y-66.7*(datum.z-1)","as":"sy"}],
"mark":{"type":"text","font":"Liberation Sans","fontSize":8.5,"fill":"#555555","align":"right","dx":-7,"dy":-1},"encoding":{"text":{"field":"t"}}}
]}
